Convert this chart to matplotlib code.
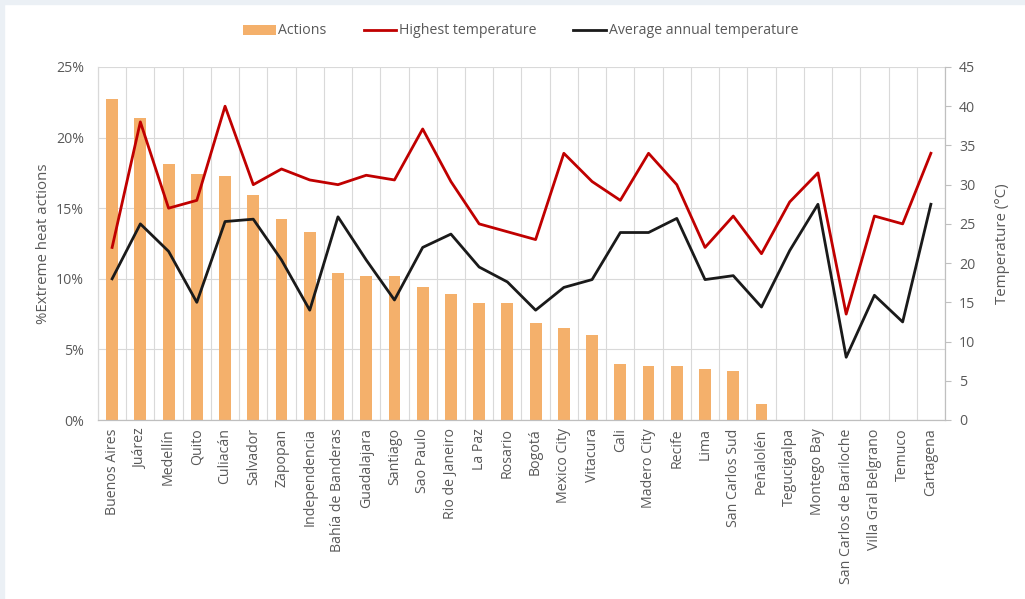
import numpy as np
import matplotlib
matplotlib.use('Agg')
import matplotlib.pyplot as plt
from matplotlib.patches import Rectangle

cities = ['Buenos Aires', 'Juárez', 'Medellín', 'Quito', 'Culiacán', 'Salvador',
          'Zapopan', 'Independencia', 'Bahía de Banderas', 'Guadalajara', 'Santiago',
          'Sao Paulo', 'Rio de Janeiro', 'La Paz', 'Rosario', 'Bogotá', 'Mexico City',
          'Vitacura', 'Cali', 'Madero City', 'Recife', 'Lima', 'San Carlos Sud',
          'Peñalolén', 'Tegucigalpa', 'Montego Bay', 'San Carlos de Bariloche',
          'Villa Gral Belgrano', 'Temuco', 'Cartagena']

actions = [22.7, 21.4, 18.1, 17.4, 17.3, 15.9, 14.2, 13.3, 10.4, 10.2, 10.2,
           9.4, 8.9, 8.3, 8.3, 6.9, 6.5, 6.0, 4.0, 3.8, 3.8, 3.6, 3.5, 1.15,
           0, 0, 0, 0, 0, 0]

highest = [22, 38, 27, 28, 40, 30, 32, 30.6, 30, 31.2, 30.6, 37.1, 30.4, 25, 24,
           23, 34, 30.4, 28, 34, 30, 22, 26, 21.2, 27.8, 31.5, 13.5, 26, 25, 34]

average = [18, 25, 21.5, 15, 25.3, 25.6, 20.4, 14, 25.9, 20.4, 15.3, 22, 23.7,
           19.5, 17.6, 14, 16.9, 17.9, 23.9, 23.9, 25.7, 17.9, 18.4, 14.4, 21.6,
           27.5, 8, 15.9, 12.5, 27.5]

plt.rcParams['font.family'] = ['Open Sans', 'DejaVu Sans']
txt = '#595959'
grid_c = '#d9d9d9'
fs = 10.2

fig = plt.figure(figsize=(10.25, 5.99), dpi=100)
ax = fig.add_axes([98 / 1025, 1 - 420 / 599, 847 / 1025, 353 / 599])
ax2 = ax.twinx()

x = np.arange(len(cities))
bars = ax.bar(x, actions, width=0.42, color='#f4b06b', label='Actions', zorder=2)
l1, = ax2.plot(x, highest, color='#c00000', lw=2, label='Highest temperature')
l2, = ax2.plot(x, average, color='#1a1a1a', lw=2, label='Average annual temperature')

ax.set_xlim(-0.5, len(cities) - 0.5)
ax.set_ylim(0, 25)
ax.set_yticks(np.arange(0, 26, 5))
ax.set_yticklabels([f'{v}%' for v in range(0, 26, 5)])
ax2.set_ylim(0, 45)
ax2.set_yticks(np.arange(0, 46, 5))

ax.set_xticks(x)
ax.set_xticklabels(cities, rotation=90)
ax.set_xticks(np.arange(-0.5, len(cities), 1), minor=True)
ax.grid(True, which='minor', axis='x', color=grid_c, lw=0.8, zorder=0)
ax.grid(True, which='major', axis='y', color=grid_c, lw=0.8, zorder=0)
ax.tick_params(axis='x', which='both', length=0, colors=txt, labelsize=fs, pad=6)
ax.tick_params(axis='y', length=0, colors=txt, labelsize=fs, pad=10)
ax2.tick_params(axis='y', length=4, color='#bfbfbf', colors=txt, labelsize=fs, pad=6)

for a in (ax, ax2):
    a.spines['top'].set_visible(False)
    a.spines['left'].set_color(grid_c)
    a.spines['bottom'].set_color('#bfbfbf')
    a.spines['right'].set_color('#bfbfbf')

ax.set_ylabel('%Extreme heat actions', color=txt, fontsize=10.8, labelpad=4)
ax2.set_ylabel('Temperature (°C)', color=txt, fontsize=10.8, labelpad=14)

fig.legend(handles=[bars, l1, l2], loc='center', bbox_to_anchor=(0.508, 1 - 31 / 599),
           ncol=3, frameon=False, fontsize=fs, labelcolor=txt,
           handlelength=2.3, handletextpad=0.2, columnspacing=2.6)

# thin light border at top and left of the image
fig.patches.append(Rectangle((0, 1 - 4 / 599), 1, 4 / 599, transform=fig.transFigure,
                             color='#ebf0f5', zorder=0))
fig.patches.append(Rectangle((0, 0), 4 / 1025, 1, transform=fig.transFigure,
                             color='#ebf0f5', zorder=0))

fig.savefig('out.png', dpi=100)
